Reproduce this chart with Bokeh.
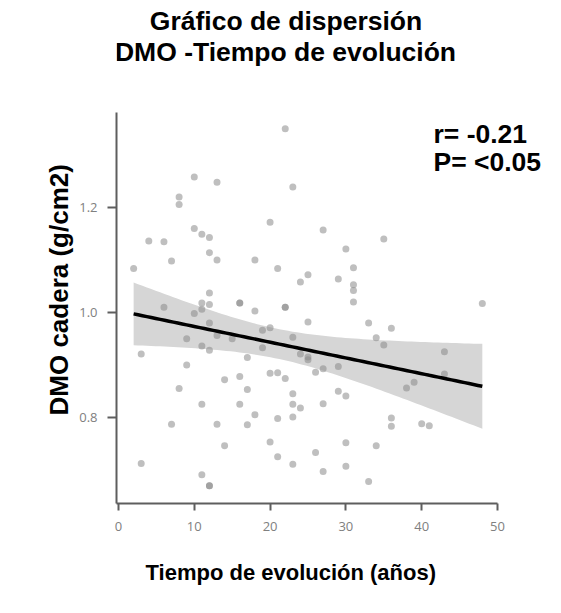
import numpy as np
from bokeh.plotting import figure
from bokeh.models import Range1d, FixedTicker, Label, Title, NumeralTickFormatter
from bokeh.embed import file_html
from bokeh.resources import INLINE

# ---- data ----
tiempo = [2, 4, 6, 7, 8, 8, 10, 13, 10, 11, 12, 12, 13, 12, 11, 12, 16, 16, 6, 11,
          22, 23, 20, 27, 30, 18, 21, 25, 24, 29, 31, 31, 31, 31, 22, 22, 18, 35, 48,
          10, 12, 9, 13, 15, 11, 12, 3, 9, 14, 16, 8, 11, 16, 7, 13, 14, 3, 11, 12, 12,
          25, 33, 20, 19, 23, 34, 19, 24, 25, 25, 17, 20, 21, 22, 26, 27, 29, 17, 23,
          29, 30, 23, 24, 27, 18, 21, 23, 17, 20, 30, 34, 26, 21, 23, 30, 27, 33,
          36, 35, 43, 43, 39, 38, 36, 36, 40, 41]
dmo = [1.084, 1.136, 1.135, 1.098, 1.220, 1.206, 1.258, 1.248, 1.160, 1.149, 1.143, 1.114,
       1.100, 1.037, 1.018, 1.015, 1.018, 1.018, 1.010, 1.006,
       1.350, 1.239, 1.172, 1.157, 1.121, 1.100, 1.084, 1.072, 1.058, 1.064, 1.085, 1.053,
       1.042, 1.020, 1.010, 1.010, 1.003, 1.140, 1.017,
       0.998, 0.980, 0.950, 0.956, 0.950, 0.936, 0.928, 0.921, 0.900, 0.872, 0.878, 0.855,
       0.825, 0.825, 0.787, 0.787, 0.746, 0.712, 0.691, 0.670, 0.670,
       0.982, 0.980, 0.971, 0.966, 0.953, 0.952, 0.933, 0.921, 0.915, 0.910, 0.914, 0.884,
       0.885, 0.874, 0.886, 0.893, 0.897, 0.853, 0.845,
       0.850, 0.841, 0.825, 0.818, 0.826, 0.805, 0.798, 0.801, 0.786, 0.753, 0.752, 0.746,
       0.733, 0.725, 0.711, 0.707, 0.697, 0.678,
       0.970, 0.938, 0.925, 0.883, 0.867, 0.856, 0.799, 0.783, 0.788, 0.784]

x_ticks = [0, 10, 20, 30, 40, 50]
y_ticks = [0.8, 1.0, 1.2]
x_axis_bounds = (-0.26, 50)
y_axis_bounds = (0.636, 1.381)

titulo_1 = "Gráfico de dispersión"
titulo_2 = "DMO -Tiempo de evolución"
x_label = "Tiempo de evolución (años)"
y_label = "DMO cadera (g/cm2)"
r_text = "r= -0.21"
p_text = "P= <0.05"

# ---- linear fit with 95% confidence band ----
x = np.array(tiempo, dtype=float)
y = np.array(dmo, dtype=float)
n = len(x)
slope, intercept = np.polyfit(x, y, 1)
xs = np.linspace(x.min(), x.max(), 80)
yhat = intercept + slope * xs
resid = y - (intercept + slope * x)
s = np.sqrt(np.sum(resid ** 2) / (n - 2))
sxx = np.sum((x - x.mean()) ** 2)
tcrit = 1.983
se = s * np.sqrt(1.0 / n + (xs - x.mean()) ** 2 / sxx)
lower = yhat - tcrit * se
upper = yhat + tcrit * se

FONT = "Liberation Sans"

# frame covers the whole area above the x axis; the axis lines are limited with bounds
p = figure(output_backend="svg", toolbar_location=None,
           x_range=Range1d(-0.26, 57.52), y_range=Range1d(0.636, 1.5945),
           min_border_left=116, min_border_right=7, min_border_top=0, min_border_bottom=20,
           frame_width=438, frame_height=503)
p.outline_line_color = None
p.grid.visible = False
p.background_fill_color = "white"
p.border_fill_color = "white"

p.varea(x=xs, y1=lower, y2=upper, fill_color="#d6d6d6", fill_alpha=1.0)
p.scatter(x=tiempo, y=dmo, size=7, fill_color="#8a8a8a", fill_alpha=0.55, line_color=None)
p.line(xs, yhat, line_color="black", line_width=3.5)

for ax in (p.xaxis[0], p.yaxis[0]):
    ax.axis_line_color = "#5e5e5e"
    ax.axis_line_width = 2
    ax.major_tick_line_color = "#5e5e5e"
    ax.major_tick_line_width = 2
    ax.major_tick_in = 0
    ax.minor_tick_line_color = None
    ax.major_label_text_font = "Open Sans"
    ax.major_label_text_font_size = "13px"
    ax.major_label_text_color = "#808080"

p.xaxis.bounds = x_axis_bounds
p.yaxis.bounds = y_axis_bounds
p.xaxis.major_tick_out = 7
p.yaxis.major_tick_out = 9
p.xaxis.major_label_standoff = 11
p.yaxis.major_label_standoff = 10
p.xaxis.ticker = FixedTicker(ticks=x_ticks)
p.yaxis.ticker = FixedTicker(ticks=y_ticks)
p.yaxis.formatter = NumeralTickFormatter(format="0.0")

tstyle = dict(text_font=FONT, text_font_style="bold", text_color="black")

p.title.visible = False
p.add_layout(Title(text=x_label, align="left", offset=29, text_font_size="22px",
                   standoff=48, **tstyle), "below")
p.add_layout(Title(text=y_label, align="left", offset=88, text_font_size="26px",
                   standoff=6, **tstyle), "left")

lab = dict(x_units="screen", y_units="screen", text_baseline="alphabetic",
           text_font_size="26.5px", **tstyle)
p.add_layout(Label(x=169.5, y=483, text=titulo_1, text_align="center", **lab))
p.add_layout(Label(x=169, y=452, text=titulo_2, text_align="center", **lab))
p.add_layout(Label(x=317, y=370, text=r_text, text_align="left", **lab))
p.add_layout(Label(x=317, y=342, text=p_text, text_align="left", **lab))

open("out.html", "w").write(file_html(p, INLINE))
